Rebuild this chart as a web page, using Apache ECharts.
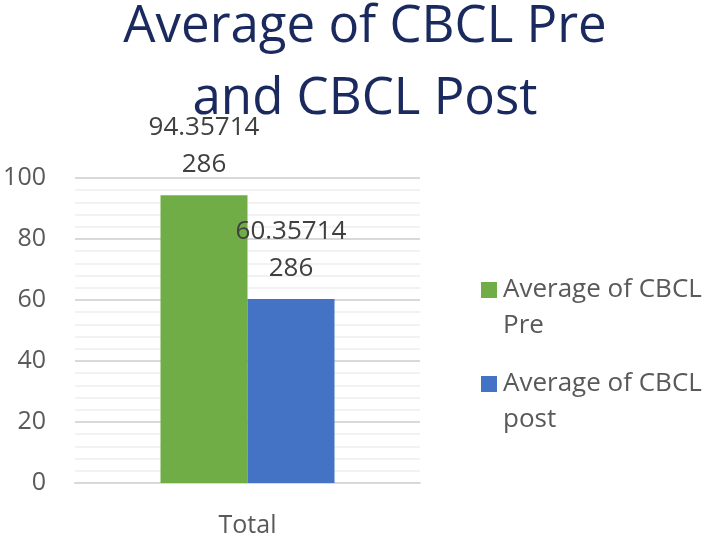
<!DOCTYPE html>
<html>
<head>
<meta charset="utf-8">
<script src="https://cdn.jsdelivr.net/npm/echarts@6/dist/echarts.min.js"></script>
<style>
  html, body { margin: 0; padding: 0; background: #fff; }
  #chart { width: 708px; height: 538px; }
</style>
</head>
<body>
<div id="chart"></div>
<script>
// chart data
const categories = ['Total']
const seriesNames = ['Average of CBCL\nPre', 'Average of CBCL\npost']
const preValues = [94.35714286]
const postValues = [60.35714286]
const labelTexts = [['94.35714', '286'], ['60.35714', '286']]

const FONT = 'Open Sans'
const chart = echarts.init(document.getElementById('chart'))

const dataLabel = (lines) => ({
  show: true,
  position: 'top',
  distance: 12,
  formatter: lines.join('\n'),
  fontSize: 26,
  color: '#404040',
  lineHeight: 37
})

chart.setOption({
  animation: false,
  textStyle: { fontFamily: FONT },
  title: {
    text: 'Average of CBCL Pre\nand CBCL Post',
    left: 360,
    textAlign: 'center',
    top: -14,
    textStyle: {
      fontFamily: FONT,
      fontSize: 51,
      fontWeight: 'normal',
      color: '#1b2a5e',
      lineHeight: 72
    }
  },
  legend: {
    orient: 'vertical',
    left: 476,
    top: 231,
    itemWidth: 16,
    itemHeight: 16,
    itemGap: -14,
    icon: 'rect',
    // blank first line keeps the marker level with the first text line
    formatter: name => ' \n' + name,
    textStyle: {
      fontFamily: FONT,
      fontSize: 26,
      color: '#595959',
      lineHeight: 36,
      padding: [0, 0, 0, 1]
    }
  },
  grid: {
    left: 75,
    right: 288,
    top: 178,
    bottom: 52,
    containLabel: false
  },
  xAxis: {
    type: 'category',
    data: categories,
    axisLine: { lineStyle: { color: '#d9d9d9', width: 2 } },
    axisTick: { show: false },
    axisLabel: { fontSize: 25, color: '#595959', margin: 30 }
  },
  yAxis: {
    type: 'value',
    min: 0,
    max: 100,
    interval: 20,
    axisLine: { show: false },
    axisTick: { show: false },
    axisLabel: { fontSize: 25, color: '#595959', margin: 29 },
    splitLine: { lineStyle: { color: '#d9d9d9', width: 2 } },
    minorTick: { show: false, splitNumber: 5 },
    minorSplitLine: { show: true, lineStyle: { color: '#eeeeee', width: 1.5 } }
  },
  series: [
    {
      name: seriesNames[0],
      type: 'bar',
      data: preValues,
      barWidth: 87,
      barGap: '0%',
      itemStyle: { color: '#70ad47' },
      label: dataLabel(labelTexts[0])
    },
    {
      name: seriesNames[1],
      type: 'bar',
      data: postValues,
      barWidth: 87,
      barGap: '0%',
      itemStyle: { color: '#4472c4' },
      label: dataLabel(labelTexts[1])
    }
  ]
})
</script>
</body>
</html>
